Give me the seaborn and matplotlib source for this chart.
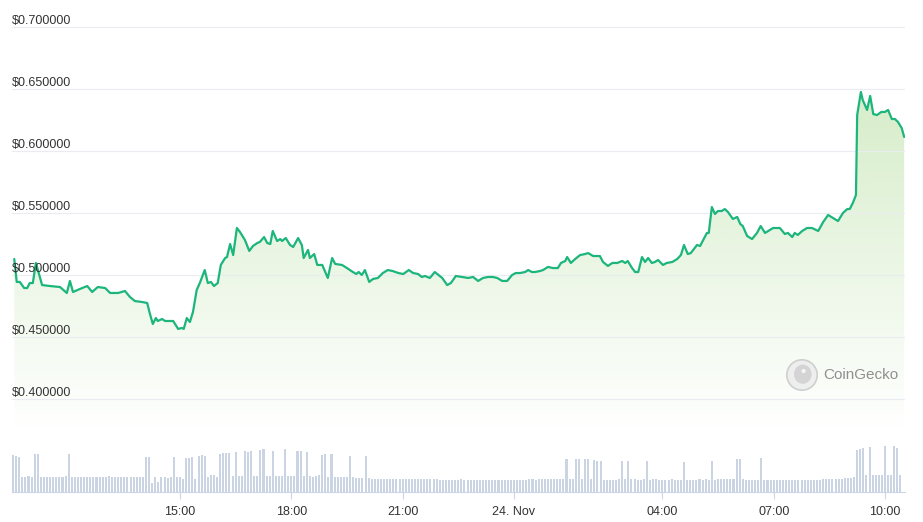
import matplotlib
matplotlib.use("Agg")
import matplotlib.pyplot as plt
import matplotlib.dates as mdates
from matplotlib.patches import Circle, Ellipse
import numpy as np
import pandas as pd
import seaborn as sns

sns.set_theme(style="white")
plt.rcParams['font.family'] = ['Liberation Sans', 'DejaVu Sans']

# price series (Nov 23 10:32 -> Nov 24 10:31)
price_time = [
    "10:32", "10:36", "10:41", "10:48", "10:53", "10:57", "11:02", "11:07", "11:17", "11:30",
    "11:46", "11:57", "12:02", "12:07", "12:18", "12:30", "12:38", "12:47", "12:59", "13:07",
    "13:20", "13:31", "13:39", "13:47", "13:59", "14:07", "14:11", "14:16", "14:21", "14:24",
    "14:31", "14:36", "14:49", "14:57", "15:03", "15:06", "15:11", "15:16", "15:21", "15:27",
    "15:32", "15:40", "15:45", "15:50", "15:55", "16:01", "16:06", "16:13", "16:16", "16:21",
    "16:26", "16:32", "16:37", "16:45", "16:52", "16:58", "17:05", "17:09", "17:16", "17:21",
    "17:26", "17:30", "17:37", "17:42", "17:45", "17:51", "17:58", "18:03", "18:11", "18:17",
    "18:20", "18:27", "18:30", "18:37", "18:42", "18:50", "18:59", "19:06", "19:11", "19:22",
    "19:30", "19:37", "19:45", "19:49", "19:54", "19:59", "20:06", "20:12", "20:20", "20:28",
    "20:36", "20:44", "20:53", "21:01", "21:10", "21:17", "21:25", "21:31", "21:36", "21:44",
    "21:52", "22:04", "22:12", "22:18", "22:26", "22:36", "22:46", "22:54", "23:02", "23:10",
    "23:18", "23:26", "23:33", "23:41", "23:49", "23:57",
    "00:03", "00:10", "00:18", "00:23", "00:29", "00:34", "00:42", "00:47", "00:55", "01:03",
    "01:11", "01:16", "01:23", "01:26", "01:32", "01:39", "01:47", "01:55", "02:00", "02:08",
    "02:19", "02:24", "02:32", "02:39", "02:47", "02:55", "03:00", "03:04", "03:11", "03:16",
    "03:21", "03:27", "03:32", "03:37", "03:43", "03:48", "03:53", "04:01", "04:07", "04:16",
    "04:24", "04:30", "04:35", "04:41", "04:46", "04:56", "05:01", "05:06", "05:12", "05:15",
    "05:20", "05:25", "05:30", "05:36", "05:41", "05:46", "05:54", "06:01", "06:06", "06:10",
    "06:17", "06:25", "06:33", "06:39", "06:46", "06:54", "06:59", "07:10", "07:18", "07:23",
    "07:30", "07:34", "07:39", "07:46", "07:54", "08:02", "08:12", "08:20", "08:28", "08:36",
    "08:44", "08:52", "08:59", "09:03", "09:08", "09:13", "09:15", "09:21", "09:24", "09:31",
    "09:36", "09:41", "09:47", "09:54", "10:00", "10:05", "10:11", "10:16", "10:21", "10:27",
    "10:31",
]
price_usd = [
    0.5129, 0.4944, 0.4944, 0.4895, 0.4895, 0.4935, 0.4935, 0.5097, 0.4919, 0.4911,
    0.4903, 0.4855, 0.4952, 0.4863, 0.4887, 0.4911, 0.4863, 0.4903, 0.4895, 0.4855,
    0.4855, 0.4871, 0.4823, 0.4790, 0.4782, 0.4774, 0.4694, 0.4605, 0.4653, 0.4629,
    0.4645, 0.4629, 0.4629, 0.4565, 0.4573, 0.4565, 0.4653, 0.4621, 0.4702, 0.4879,
    0.4935, 0.5040, 0.4935, 0.4944, 0.4911, 0.4935, 0.5081, 0.5137, 0.5145, 0.5250,
    0.5161, 0.5379, 0.5347, 0.5282, 0.5194, 0.5234, 0.5258, 0.5266, 0.5306, 0.5258,
    0.5250, 0.5355, 0.5274, 0.5290, 0.5274, 0.5298, 0.5242, 0.5226, 0.5298, 0.5242,
    0.5137, 0.5202, 0.5137, 0.5169, 0.5081, 0.5081, 0.4976, 0.5137, 0.5089, 0.5081,
    0.5056, 0.5032, 0.5008, 0.5024, 0.5000, 0.5040, 0.4944, 0.4968, 0.4976, 0.5016,
    0.5040, 0.5032, 0.5016, 0.5008, 0.5040, 0.5016, 0.5008, 0.4984, 0.4992, 0.4976,
    0.5024, 0.4976, 0.4919, 0.4935, 0.4992, 0.4984, 0.4976, 0.4984, 0.4952, 0.4976,
    0.4984, 0.4984, 0.4976, 0.4952, 0.4952, 0.5000,
    0.5016, 0.5016, 0.5024, 0.5040, 0.5024, 0.5024, 0.5032, 0.5040, 0.5065, 0.5056,
    0.5056, 0.5097, 0.5113, 0.5145, 0.5097, 0.5129, 0.5161, 0.5169, 0.5177, 0.5153,
    0.5153, 0.5105, 0.5073, 0.5097, 0.5097, 0.5113, 0.5097, 0.5113, 0.5056, 0.5024,
    0.5024, 0.5145, 0.5105, 0.5137, 0.5097, 0.5105, 0.5121, 0.5081, 0.5097, 0.5105,
    0.5129, 0.5161, 0.5242, 0.5169, 0.5177, 0.5242, 0.5234, 0.5282, 0.5339, 0.5339,
    0.5548, 0.5492, 0.5516, 0.5516, 0.5532, 0.5508, 0.5452, 0.5468, 0.5411, 0.5395,
    0.5315, 0.5290, 0.5339, 0.5395, 0.5339, 0.5363, 0.5379, 0.5379, 0.5331, 0.5339,
    0.5306, 0.5339, 0.5323, 0.5355, 0.5379, 0.5379, 0.5355, 0.5427, 0.5484, 0.5460,
    0.5435, 0.5500, 0.5532, 0.5532, 0.5581, 0.5645, 0.6290, 0.6476, 0.6411, 0.6331,
    0.6444, 0.6298, 0.6290, 0.6315, 0.6315, 0.6331, 0.6258, 0.6258, 0.6234, 0.6185,
    0.6113,
]

# 5-minute volume bars (relative heights), 24 per row = 2 hours
volume = [
    37, 36, 35, 15, 15, 16, 15, 38, 38, 15, 15, 15, 15, 15, 15, 15, 15, 16, 38, 15, 15, 15, 15, 15,
    15, 15, 15, 15, 15, 15, 15, 16, 15, 15, 15, 15, 15, 15, 15, 15, 15, 15, 15, 35, 35, 9, 15, 10,
    15, 15, 14, 15, 35, 15, 15, 13, 34, 34, 35, 13, 36, 37, 36, 15, 17, 17, 15, 38, 39, 39, 39, 16,
    40, 16, 16, 41, 40, 41, 16, 16, 42, 43, 16, 16, 41, 16, 16, 16, 43, 16, 16, 16, 41, 41, 16, 40,
    16, 15, 16, 17, 37, 38, 15, 38, 15, 15, 15, 15, 15, 36, 15, 14, 14, 14, 36, 14, 13, 13, 13, 13,
    13, 13, 13, 13, 13, 13, 13, 13, 13, 13, 13, 13, 13, 13, 13, 13, 13, 13, 12, 12, 12, 12, 12, 12,
    12, 13, 12, 12, 12, 12, 12, 12, 12, 12, 12, 12, 12, 12, 12, 12, 12, 12, 12, 12, 12, 12, 12, 13,
    13, 12, 13, 13, 13, 13, 13, 13, 13, 13, 13, 33, 13, 13, 33, 33, 13, 33, 33, 13, 32, 31, 31, 12,
    12, 12, 12, 12, 13, 31, 13, 31, 13, 13, 12, 12, 13, 31, 12, 13, 13, 12, 12, 12, 12, 13, 12, 12,
    12, 30, 12, 12, 12, 12, 13, 12, 13, 12, 31, 12, 13, 13, 13, 13, 13, 13, 33, 33, 13, 12, 12, 12,
    12, 12, 34, 12, 12, 12, 12, 12, 12, 12, 12, 12, 12, 12, 12, 12, 12, 12, 12, 12, 12, 12, 13, 13,
    13, 13, 13, 13, 13, 14, 14, 14, 15, 42, 43, 44, 17, 45, 17, 17, 17, 17, 46, 17, 17, 46, 44, 17,
]

price_ticks = [0.40, 0.45, 0.50, 0.55, 0.60, 0.65, 0.70]
tick_times = ["2023-11-23 15:00", "2023-11-23 18:00", "2023-11-23 21:00", "2023-11-24 00:00",
              "2023-11-24 04:00", "2023-11-24 07:00", "2023-11-24 10:00"]
tick_labels = ["15:00", "18:00", "21:00", "24. Nov", "04:00", "07:00", "10:00"]

# build timestamps (roll over to the next day after midnight)
t = pd.to_datetime(["2023-11-23 " + s for s in price_time])
rollover = np.cumsum(np.r_[0, (np.diff(t.asi8) < 0).astype(int)])
t = t + pd.to_timedelta(rollover, unit="D")
df = pd.DataFrame({"time": t, "price": price_usd})
vol_time = pd.date_range("2023-11-23 10:30", periods=len(volume), freq="5min")

W, H = 923, 522
fig = plt.figure(figsize=(W / 100, H / 100), dpi=100)

def px_box(x0, y0, x1, y1):
    return [x0 / W, 1 - y1 / H, (x1 - x0) / W, (y1 - y0) / H]

x_left = pd.Timestamp("2023-11-23 15:00") + pd.Timedelta(minutes=(12 - 180) * 1.617)
x_right = pd.Timestamp("2023-11-23 15:00") + pd.Timedelta(minutes=(905 - 180) * 1.617)

line_green = "#1cb57c"
grid_col = "#e9ecf1"
text_col = "#333333"

# ---- price panel
ax = fig.add_axes(px_box(12, 15, 905, 430))
y_top = 0.5 + (275 - 15) * 0.05 / 62
y_bot = 0.5 - (430 - 275) * 0.05 / 62
ax.set_xlim(x_left, x_right)
ax.set_ylim(y_bot, y_top)

for p in price_ticks:
    ax.axhline(p, color=grid_col, lw=0.8, zorder=2)
    ax.annotate(f"${p:.6f}", xy=(0, p), xycoords=("axes fraction", "data"),
                xytext=(0, 2.3), textcoords="offset points", ha="left", va="baseline",
                fontsize=9, color=text_col, zorder=6)

poly = ax.fill_between(df["time"], df["price"], y_bot, color="none", lw=0)
grad = np.zeros((256, 1, 4))
grad[..., 0] = 141 / 255
grad[..., 1] = 205 / 255
grad[..., 2] = 105 / 255
grad[..., 3] = np.linspace(0.44, 0.0, 256)[:, None]
x0n, x1n = mdates.date2num(x_left), mdates.date2num(x_right)
im = ax.imshow(grad, extent=[x0n, x1n, y_bot, y_top], aspect="auto", zorder=1,
               interpolation="bilinear")
im.set_clip_path(poly.get_paths()[0], transform=ax.transData)
ax.set_xlim(x_left, x_right)
ax.set_ylim(y_bot, y_top)

sns.lineplot(data=df, x="time", y="price", ax=ax, color=line_green, lw=1.6, zorder=4)
ax.set_xlabel("")
ax.set_ylabel("")
ax.set_xticks([])
ax.set_yticks([])
for s in ax.spines.values():
    s.set_visible(False)
ax.patch.set_alpha(0)

# ---- volume panel
axv = fig.add_axes(px_box(12, 440, 905, 492))
axv.bar(vol_time, volume, width=3.3 / 1440, color="#cbd4e2", align="center", lw=0)
axv.set_xlim(x_left, x_right)
axv.set_ylim(0, 52)
axv.set_yticks([])
axv.set_xticks(pd.to_datetime(tick_times))
axv.set_xticklabels(tick_labels)
axv.tick_params(axis="x", bottom=True, length=5, width=0.8, color="#ccd6eb",
                labelsize=9, labelcolor=text_col, pad=5)
for name, s in axv.spines.items():
    s.set_visible(name == "bottom")
axv.spines["bottom"].set_color("#ccd6eb")
axv.spines["bottom"].set_linewidth(0.8)
axv.patch.set_alpha(0)

# ---- watermark
wm = fig.add_axes(px_box(786, 359, 818, 391))
wm.set_xlim(-1, 1)
wm.set_ylim(-1, 1)
wm.set_aspect("equal")
wm.axis("off")
wm.add_patch(Circle((0, 0), 0.95, facecolor="#eeeeee", edgecolor="#cfcfcf", lw=1.2))
wm.add_patch(Ellipse((0.05, 0.05), 1.1, 1.2, facecolor="#d4d4d4", edgecolor="none"))
wm.add_patch(Circle((0.1, 0.25), 0.13, facecolor="#f6f6f6", edgecolor="none"))
fig.text(823 / W, 1 - 375 / H, "CoinGecko", fontsize=11, color="#8f8f8f",
         ha="left", va="center")

fig.savefig("out.png", dpi=100)
